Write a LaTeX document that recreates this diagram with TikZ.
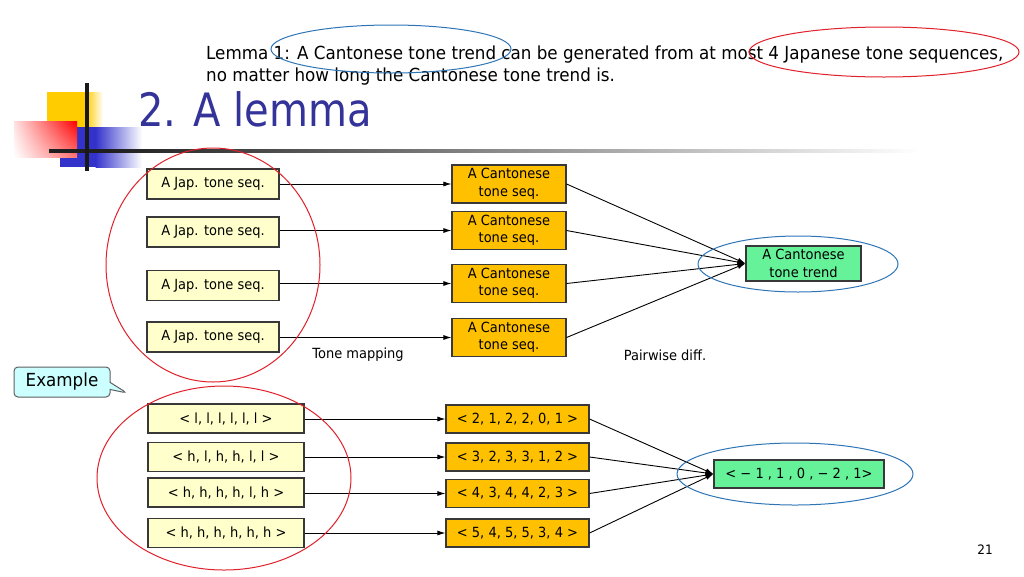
\documentclass[tikz,border=0pt]{standalone}
\usepackage{fontspec}
\setmainfont{DejaVu Sans}[FakeStretch=0.93]
\newfontfamily\titlefont{DejaVu Sans}[FakeStretch=0.87]
\usetikzlibrary{arrows.meta,shapes.callouts,shadings}
\definecolor{titleblue}{HTML}{333399}
\definecolor{japfill}{HTML}{FFFFCC}
\definecolor{cantfill}{HTML}{FFC000}
\definecolor{trendfill}{HTML}{66F299}
\definecolor{callfill}{HTML}{CCFFFF}
\definecolor{ellred}{HTML}{E0202A}
\definecolor{ellblue}{HTML}{2E75B6}
\definecolor{logoyellow}{HTML}{FFCC00}
\definecolor{logoblue}{HTML}{3333CC}
\definecolor{boxline}{HTML}{383838}
\tikzset{
  basebox/.style={draw=boxline, line width=1.1pt, inner sep=0pt, align=center, font=\fontsize{14}{17.5}\selectfont},
  japbox/.style={basebox, fill=japfill, minimum width=132pt, minimum height=30pt},
  cantbox/.style={basebox, fill=cantfill, minimum width=114pt, minimum height=38pt},
  trendbox/.style={basebox, fill=trendfill, minimum width=115pt, minimum height=35pt},
  exjap/.style={basebox, fill=japfill, minimum width=156pt, minimum height=29pt},
  excant/.style={basebox, fill=cantfill, minimum width=143pt, minimum height=28pt},
  exres/.style={basebox, fill=trendfill, minimum width=170pt, minimum height=28pt},
  conn/.style={line width=0.9pt, -{Latex[length=8pt,width=5pt]}},
  redell/.style={draw=ellred, line width=1pt},
  blueell/.style={draw=ellblue, line width=1pt},
  caption/.style={font=\fontsize{14}{17}\selectfont},
  lemmatext/.style={anchor=base west, inner sep=0pt, font=\fontsize{18}{22}\selectfont},
}
\begin{document}
\begin{tikzpicture}[x=1pt,y=-1pt]
\useasboundingbox (0,0) rectangle (1024,576);
\fill[white] (0,0) rectangle (1024,576);

% logo
\fill[logoyellow] (47,92) rectangle (86,130);
\shade[left color=logoyellow, right color=white] (85.5,92) rectangle (103,130);
\fill[logoblue] (60,127) rectangle (96,167);
\shade[left color=logoblue, right color=white] (95.5,127) rectangle (142,167);
\shade[upper left=red!12, upper right=red, lower left=white, lower right=red!55] (14,121) rectangle (77,157);
\fill[black!88] (49,149.2) rectangle (108,152.8);
\shade[left color=black!88, right color=white] (107.5,149.2) rectangle (920,152.8);
\draw[line width=3.5pt, black!90] (87,83) -- (87,171);

% title and lemma
\node[anchor=base west, inner sep=0pt, text=titleblue, font=\titlefont\fontsize{46}{50}\selectfont] (title) at (138,126) {2. A lemma};
\node[lemmatext] (lemma1) at (206,59) {Lemma 1: A Cantonese tone trend can be generated from at most 4 Japanese tone sequences,};
\node[lemmatext] (lemma2) at (206,81) {no matter how long the Cantonese tone trend is.};
\draw[blueell] (391,49) ellipse [x radius=120, y radius=24];
\draw[redell] (884,52) ellipse [x radius=135, y radius=25];

% top diagram
\node[japbox] (j1) at (213,184) {A Jap. tone seq.};
\node[japbox] (j2) at (213,232) {A Jap. tone seq.};
\node[japbox] (j3) at (213,285.5) {A Jap. tone seq.};
\node[japbox] (j4) at (213,337) {A Jap. tone seq.};
\node[cantbox] (c1) at (509,184) {A Cantonese\\tone seq.};
\node[cantbox] (c2) at (509,230.5) {A Cantonese\\tone seq.};
\node[cantbox] (c3) at (509,283.5) {A Cantonese\\tone seq.};
\node[cantbox] (c4) at (509,337.5) {A Cantonese\\tone seq.};
\node[trendbox] (tr) at (803.5,263.5) {A Cantonese\\tone trend};
\foreach \i in {1,2,3,4} {
  \draw[conn] (j\i.east |- c\i.west) -- (c\i.west);
  \draw[conn] (c\i.east) -- (tr.west);
}
\node[caption] (tm) at (358,355) {Tone mapping};
\node[caption] (pd) at (665,355) {Pairwise diff.};
\draw[redell] (213,265) ellipse [x radius=107, y radius=117];
\draw[blueell] (798,264) ellipse [x radius=100, y radius=28];

% example callout
\node[rectangle callout, draw=boxline!80, line width=1pt, fill=callfill, rounded corners=4pt,
      minimum width=96pt, minimum height=30pt, inner sep=0pt,
      callout absolute pointer={(127,393)}, font=\fontsize{18}{20}\selectfont] (ex) at (62,382) {Example};

% bottom diagram
\node[exjap] (b1) at (226,418.5) {< l, l, l, l, l, l >};
\node[exjap] (b2) at (226,457) {< h, l, h, h, l, l >};
\node[exjap] (b3) at (226,492.5) {< h, h, h, h, l, h >};
\node[exjap] (b4) at (226,533) {< h, h, h, h, h, h >};
\node[excant] (d1) at (517.5,419) {< 2, 1, 2, 2, 0, 1 >};
\node[excant] (d2) at (517.5,457) {< 3, 2, 3, 3, 1, 2 >};
\node[excant] (d3) at (517.5,493.5) {< 4, 3, 4, 4, 2, 3 >};
\node[excant] (d4) at (517.5,533) {< 5, 4, 5, 5, 3, 4 >};
\node[exres] (res) at (799,474) {< − 1 , 1 , 0 , − 2 , 1>};
\foreach \i in {1,2,3,4} {
  \draw[conn] (b\i.east |- d\i.west) -- (d\i.west);
  \draw[conn] (d\i.east) -- (res.west);
}
\draw[redell] (224,478) ellipse [x radius=127, y radius=92];
\draw[blueell] (795,474) ellipse [x radius=118, y radius=31];

\node[font=\fontsize{13}{15}\selectfont] (pg) at (985,550) {21};
\end{tikzpicture}
\end{document}
